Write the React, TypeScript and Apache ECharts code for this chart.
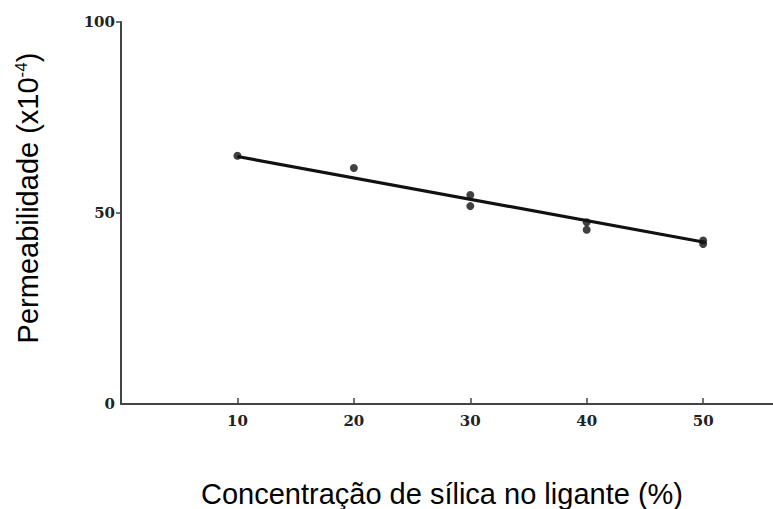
import React, { useEffect, useRef } from "react";
import * as echarts from "echarts";

const pointX = [10, 20, 30, 30, 40, 40, 50, 50];
const pointY = [65.0, 61.8, 54.7, 51.8, 47.6, 45.6, 42.8, 41.9];
const fitX = [10, 50];
const fitY = [64.8, 42.4];
const xTicks = [10, 20, 30, 40, 50];
const yTicks = [0, 50, 100];
const xTitle = "Concentração de sílica no ligante (%)";
const yTitle = "Permeabilidade (x10{sup|-4})";

export default function App() {
  const ref = useRef<HTMLDivElement>(null);
  useEffect(() => {
    if (!ref.current) return;
    const chart = echarts.init(ref.current, null, { renderer: "svg" });
    const tickFont = { fontFamily: "DejaVu Serif", fontSize: 15, fontWeight: "bold", color: "#222" };
    chart.setOption({
      animation: false,
      backgroundColor: "#ffffff",
      grid: { left: 121, right: 0, top: 22, bottom: 105, containLabel: false },
      xAxis: {
        type: "value",
        min: 0,
        max: 56,
        interval: 10,
        splitLine: { show: false },
        axisLine: { show: true, onZero: false, lineStyle: { color: "#444", width: 2 } },
        axisTick: { show: true, inside: true, length: 6, lineStyle: { color: "#444", width: 1.5 }, customValues: xTicks },
        axisLabel: { ...tickFont, margin: 9, customValues: xTicks },
      },
      yAxis: {
        type: "value",
        min: 0,
        max: 100,
        interval: 50,
        splitLine: { show: false },
        axisLine: { show: true, lineStyle: { color: "#444", width: 2 } },
        axisTick: { show: true, length: 5, lineStyle: { color: "#444", width: 1.5 }, customValues: [50, 100] },
        axisLabel: { ...tickFont, margin: 6, customValues: yTicks },
      },
      series: [
        {
          type: "line",
          data: fitX.map((x, i) => [x, fitY[i]]),
          symbol: "none",
          lineStyle: { color: "#111", width: 3.2 },
          z: 2,
        },
        {
          type: "scatter",
          data: pointX.map((x, i) => [x, pointY[i]]),
          symbol: "circle",
          symbolSize: 8,
          itemStyle: { color: "#111" },
          z: 3,
        },
      ],
      graphic: [
        {
          type: "text",
          left: 201,
          top: 479,
          style: {
            text: xTitle,
            fontFamily: "Liberation Sans",
            fontSize: 29,
            fill: "#000",
          },
        },
        {
          type: "text",
          x: 28,
          y: 198,
          rotation: Math.PI / 2,
          style: {
            text: yTitle,
            fontFamily: "Liberation Sans",
            fontSize: 29,
            fill: "#000",
            align: "center",
            verticalAlign: "middle",
            rich: {
              sup: { fontFamily: "Liberation Sans", fontSize: 17, fill: "#000", verticalAlign: "top", padding: [0, 0, 14, 0] },
            },
          },
        },
      ],
    });
    return () => chart.dispose();
  }, []);
  return <div ref={ref} style={{ width: 773, height: 509, position: "absolute", left: 0, top: 0 }} />;
}
